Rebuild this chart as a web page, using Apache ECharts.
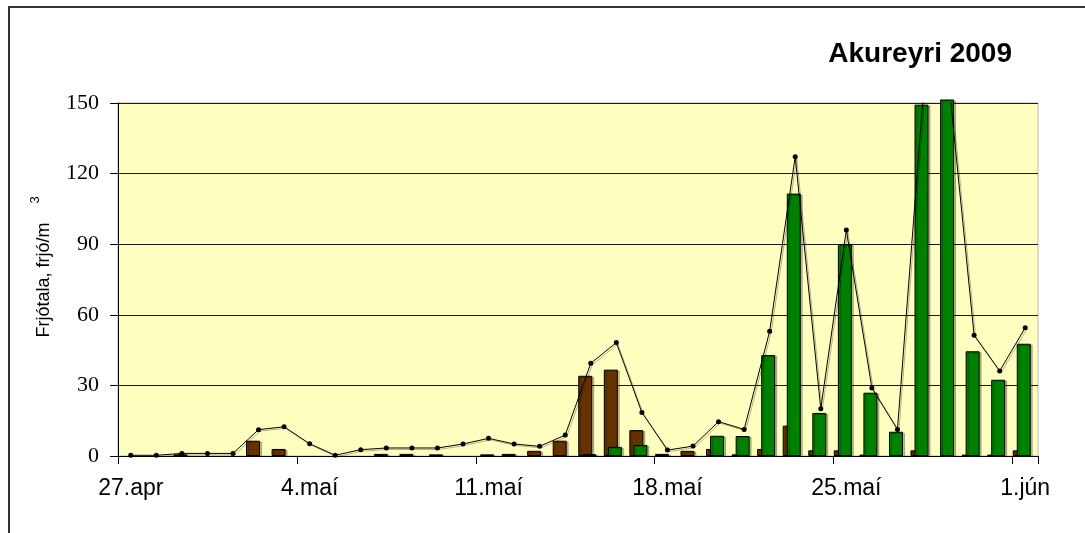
<!DOCTYPE html>
<html>
<head>
<meta charset="utf-8">
<script src="https://cdn.jsdelivr.net/npm/echarts/dist/echarts.min.js"></script>
<style>
html, body { margin: 0; padding: 0; background: #fff; }
#chart { width: 1085px; height: 533px; }
</style>
</head>
<body>
<div id="chart"></div>
<script>
// dagar frá 27. apríl til 1. júní
const categories = [
    '27.apr', '28.apr', '29.apr', '30.apr', '1.maí', '2.maí', '3.maí',
    '4.maí', '5.maí', '6.maí', '7.maí', '8.maí', '9.maí', '10.maí',
    '11.maí', '12.maí', '13.maí', '14.maí', '15.maí', '16.maí', '17.maí',
    '18.maí', '19.maí', '20.maí', '21.maí', '22.maí', '23.maí', '24.maí',
    '25.maí', '26.maí', '27.maí', '28.maí', '29.maí', '30.maí', '31.maí',
    '1.jún'
];

// brúnar súlur
const brownBars = [
    null, null, null, null, null, 6.5, 3.0,
    null, null, null, 0.9, 0.9, null, null,
    null, 0.9, 2.2, 6.5, 34.1, 36.7, 11.0,
    0.9, 2.2, 3.0, 0.7, 3.0, 12.9, 2.4,
    2.4, 0.6, null, 2.4, null, 0.6, 0.6,
    2.4
];

// grænar súlur
const greenBars = [
    null, null, 0.7, null, null, null, null,
    null, null, null, null, null, 0.7, null,
    0.7, null, null, null, 0.8, 3.9, 4.7,
    null, null, 8.6, 8.5, 42.9, 111.5, 18.3,
    90.1, 26.9, 10.3, 149.3, 151.5, 44.5, 32.4,
    47.7
];

// heildarfjöldi (lína)
const totalLine = [
    0.3, 0.3, 1.1, 1.1, 1.1, 11.2, 12.4,
    5.2, 0.3, 2.7, 3.4, 3.4, 3.4, 5.1,
    7.5, 5.1, 4.1, 8.9, 39.4, 48.2, 18.5,
    2.5, 4.2, 14.6, 11.3, 53.0, 127.2, 20.1,
    96.0, 28.9, 11.3, 152, 160, 51.3, 36.1,
    54.5
];

const yTicks = { min: 0, max: 150, interval: 30 };

let myChart = echarts.init(document.getElementById('chart'));

let option = {
    animation: false,
    backgroundColor: '#fff',
    title: {
        text: 'Akureyri 2009',
        right: 68,
        top: 35,
        textStyle: {
            fontFamily: 'Liberation Sans',
            fontWeight: 'bold',
            fontSize: 28,
            color: '#000'
        }
    },
    grid: [
        {
            left: 118, right: 47, top: 103, bottom: 77,
            show: true,
            backgroundColor: '#FFFFC0',
            borderColor: '#B8B8B8',
            borderWidth: 1,
            outerBoundsMode: 'none'
        },
        // súlurnar sitja ögn vinstra megin við punktana
        {
            left: 114.5, right: 50.5, top: 103, bottom: 77,
            show: false,
            outerBoundsMode: 'none'
        }
    ],
    xAxis: [
        {
            type: 'category',
            gridIndex: 0,
            data: categories,
            boundaryGap: true,
            axisLine: { show: true, lineStyle: { color: '#000', width: 1 } },
            axisTick: { show: true, interval: 6, length: 8, alignWithLabel: false, lineStyle: { color: '#000' } },
            axisLabel: {
                interval: 6,
                margin: 21,
                color: '#000',
                fontFamily: 'Liberation Sans',
                fontSize: 23,
                hideOverlap: false
            },
            splitLine: { show: false }
        },
        {
            type: 'category',
            gridIndex: 1,
            data: categories,
            boundaryGap: true,
            show: false
        }
    ],
    yAxis: [
        {
            type: 'value',
            gridIndex: 0,
            min: yTicks.min,
            max: yTicks.max,
            interval: yTicks.interval,
            axisLine: { show: true, lineStyle: { color: '#000', width: 1 } },
            axisTick: { show: true, length: 8, lineStyle: { color: '#000' } },
            axisLabel: {
                margin: 19,
                color: '#000',
                fontFamily: 'Liberation Serif',
                fontSize: 22
            },
            splitLine: { show: true, lineStyle: { color: '#1a1a1a', width: 1 } }
        },
        {
            type: 'value',
            gridIndex: 1,
            min: yTicks.min,
            max: yTicks.max,
            interval: yTicks.interval,
            show: false,
            splitLine: { show: false }
        }
    ],
    graphic: [
        {
            type: 'rect',
            silent: true,
            z: 100,
            shape: { x: 9, y: 7, width: 1200, height: 700 },
            style: { fill: 'none', stroke: '#333', lineWidth: 2 }
        },
        {
            type: 'text',
            silent: true,
            x: 44, y: 280,
            rotation: Math.PI / 2,
            style: {
                text: 'Frjótala, frjó/m',
                fontFamily: 'Liberation Sans',
                fontSize: 18,
                fill: '#000',
                align: 'center',
                verticalAlign: 'middle'
            }
        },
        {
            type: 'text',
            silent: true,
            x: 35, y: 200,
            rotation: Math.PI / 2,
            style: {
                text: '3',
                fontFamily: 'Liberation Sans',
                fontSize: 13,
                fill: '#000',
                align: 'center',
                verticalAlign: 'middle'
            }
        }
    ],
    series: [
        {
            type: 'bar',
            xAxisIndex: 1,
            yAxisIndex: 1,
            data: brownBars,
            barWidth: 14,
            barGap: '-71%',
            itemStyle: {
                color: '#663300',
                borderColor: '#000',
                borderWidth: 1,
                shadowColor: 'rgba(0,0,0,0.25)',
                shadowOffsetX: 2,
                shadowOffsetY: 1
            }
        },
        {
            type: 'bar',
            xAxisIndex: 1,
            yAxisIndex: 1,
            data: greenBars,
            barWidth: 14,
            barGap: '-71%',
            clip: false,
            itemStyle: {
                color: '#008000',
                borderColor: '#000',
                borderWidth: 1,
                shadowColor: 'rgba(0,0,0,0.25)',
                shadowOffsetX: 2,
                shadowOffsetY: 1
            }
        },
        {
            type: 'line',
            xAxisIndex: 0,
            yAxisIndex: 0,
            data: totalLine,
            z: 5,
            symbol: 'circle',
            symbolSize: 5,
            showSymbol: true,
            itemStyle: { color: '#000' },
            lineStyle: {
                color: '#000',
                width: 1,
                shadowColor: 'rgba(0,0,0,0.3)',
                shadowOffsetX: 1.5,
                shadowOffsetY: 1.5
            }
        }
    ]
};

myChart.setOption(option);
</script>
</body>
</html>
